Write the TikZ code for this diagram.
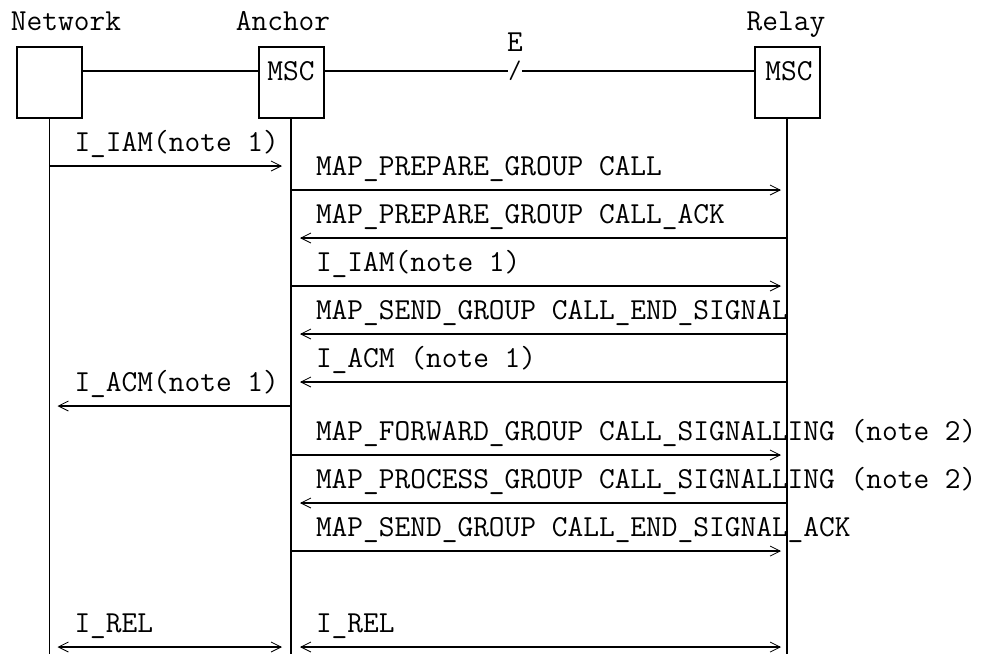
\documentclass[tikz,border=0pt]{standalone}
\usepackage{fontspec}
\usetikzlibrary{arrows.meta,positioning}

\begin{document}
\begin{tikzpicture}[x=0.75pt, y=-0.75pt,
  >={Straight Barb[length=7.5pt,width=7.5pt,line width=0.6pt]},
  every node/.style={font=\ttfamily\fontsize{22.9}{27}\selectfont},
  entity/.style={draw, line width=1.5pt, minimum width=48.75pt, minimum height=53.25pt, inner sep=0pt},
  life/.style={line width=1.1pt},
  link/.style={line width=1.5pt},
  msg/.style={line width=1.5pt},
  lbl/.style={anchor=base west, inner sep=0pt, xshift=18pt, yshift=11.25pt}]
\path[use as bounding box] (0,0) rectangle (984,654);
% entities
\node[entity] (Net) at (49.5,82.5) {};
\node[entity] (Anc) at (291,82.5) {};
\node[entity] (Rel) at (787,82.5) {};
\node[anchor=base] (NetTitle) at (66,30) {Network};
\node[anchor=base] (AncTitle) at (283,30) {Anchor};
\node[anchor=base] (RelTitle) at (786,30) {Relay};
\node (AncMSC) at (291,71) {MSC};
\node (RelMSC) at (789,71) {MSC};
\node[anchor=base, inner sep=0pt] (ELabel) at (515,51) {E};
\node[inner sep=0pt, font=\ttfamily\fontsize{19}{20}\selectfont] (ESlash) at (515,71) {/};
\draw[link] (Net.east |- AncMSC) -- (Anc.west |- AncMSC);
\draw[link] (Anc.east |- AncMSC) -- (ESlash.west);
\draw[link] (ESlash.east) -- (Rel.west |- RelMSC);
% lifelines
\coordinate (bot) at (0,654);
\draw[life] (Net.south) -- (Net.south |- bot);
\draw[life] (Anc.south) -- (Anc.south |- bot);
\draw[life] (Rel.south) -- (Rel.south |- bot);
% messages
\foreach \y [count=\i] in {166,190,238,286,334,382,406,455,503,551,647}
  \coordinate (m\i) at (0,\y);
\draw[msg,->,shorten >=6.75pt] (Net |- m1) -- (Anc |- m1) node[lbl,pos=0] (t1) {I\_IAM(note 1)};
\draw[msg,->,shorten >=4.5pt] (Anc |- m2) -- (Rel |- m2) node[lbl,pos=0] (t2) {MAP\_PREPARE\_GROUP CALL};
\draw[msg,->,shorten >=6.75pt] (Rel |- m3) -- (Anc |- m3) node[lbl,pos=1] (t3) {MAP\_PREPARE\_GROUP CALL\_ACK};
\draw[msg,->,shorten >=4.5pt] (Anc |- m4) -- (Rel |- m4) node[lbl,pos=0] (t4) {I\_IAM(note 1)};
\draw[msg,->,shorten >=6.75pt] (Rel |- m5) -- (Anc |- m5) node[lbl,pos=1] (t5) {MAP\_SEND\_GROUP CALL\_END\_SIGNAL};
\draw[msg,->,shorten >=6.75pt] (Rel |- m6) -- (Anc |- m6) node[lbl,pos=1] (t6) {I\_ACM (note 1)};
\draw[msg,->,shorten >=6pt] (Anc |- m7) -- (Net |- m7) node[lbl,pos=1] (t7) {I\_ACM(note 1)};
\draw[msg,->,shorten >=4.5pt] (Anc |- m8) -- (Rel |- m8) node[lbl,pos=0] (t8) {MAP\_FORWARD\_GROUP CALL\_SIGNALLING (note 2)};
\draw[msg,->,shorten >=6.75pt] (Rel |- m9) -- (Anc |- m9) node[lbl,pos=1] (t9) {MAP\_PROCESS\_GROUP CALL\_SIGNALLING (note 2)};
\draw[msg,->,shorten >=4.5pt] (Anc |- m10) -- (Rel |- m10) node[lbl,pos=0] (t10) {MAP\_SEND\_GROUP CALL\_END\_SIGNAL\_ACK};
\draw[msg,<->,shorten <=6pt,shorten >=6.75pt] (Net |- m11) -- (Anc |- m11) node[lbl,pos=0] (t11) {I\_REL};
\draw[msg,<->,shorten <=6.75pt,shorten >=4.5pt] (Anc |- m11) -- (Rel |- m11) node[lbl,pos=0] (t12) {I\_REL};
\end{tikzpicture}
\end{document}
